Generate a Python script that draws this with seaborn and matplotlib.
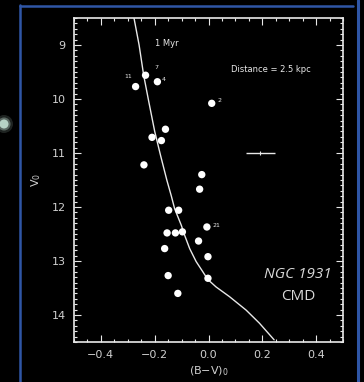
import numpy as np
import pandas as pd
import matplotlib
matplotlib.use("Agg")
import matplotlib.pyplot as plt
import seaborn as sns
from matplotlib.lines import Line2D
from matplotlib.patches import Ellipse
from matplotlib.ticker import MultipleLocator

# ---- data ----
star_bv = [-0.234, -0.271, -0.190, 0.012, -0.160, -0.210, -0.175, -0.240, -0.025, -0.033,
           -0.148, -0.111, -0.006, -0.154, -0.123, -0.097, -0.037, -0.163, -0.002, -0.150,
           -0.002, -0.114]
star_v = [9.56, 9.77, 9.68, 10.08, 10.56, 10.71, 10.77, 11.22, 11.40, 11.67,
          12.06, 12.06, 12.37, 12.48, 12.48, 12.46, 12.63, 12.77, 12.92, 13.27,
          13.32, 13.60]

iso_bv = [-0.277, -0.258, -0.241, -0.222, -0.200, -0.178, -0.155, -0.138, -0.126, -0.101,
          -0.089, -0.070, -0.046, -0.021, -0.003, 0.028, 0.078, 0.140, 0.189, 0.244]
iso_v = [8.50, 9.00, 9.56, 10.05, 10.60, 11.05, 11.50, 11.80, 12.03, 12.34,
         12.52, 12.77, 13.01, 13.20, 13.34, 13.48, 13.66, 13.91, 14.15, 14.46]

label_text = ["7", "11", "4", "2", "21"]
label_bv = [-0.194, -0.300, -0.168, 0.040, 0.030]
label_v = [9.42, 9.58, 9.63, 10.03, 12.34]

err_bv = [0.193]
err_v = [11.0]
err_xerr = [0.053]

xticks = [-0.4, -0.2, 0.0, 0.2, 0.4]
xticklabels = ["\u22120.4", "\u22120.2", "0.0", "0.2", "0.4"]
yticks = [9, 10, 11, 12, 13, 14]

stars = pd.DataFrame({"bv": star_bv, "v": star_v})
iso = pd.DataFrame({"bv": iso_bv, "v": iso_v})

sns.set_style("dark", {"axes.facecolor": "black", "figure.facecolor": "black"})
plt.rcParams["font.family"] = ["DejaVu Sans"]

fig = plt.figure(figsize=(3.64, 3.82), dpi=100)
fig.patch.set_facecolor("black")
ax = fig.add_axes([74/364, 1-342/382, 269/364, 324/382])
ax.set_facecolor("black")

fg = "#e8e8e8"
sns.lineplot(data=iso, x="bv", y="v", sort=False, color=fg, lw=1.0, ax=ax)
sns.scatterplot(data=stars, x="bv", y="v", color="white", s=28, edgecolor="none", ax=ax, zorder=3)
ax.errorbar(err_bv, err_v, xerr=err_xerr, fmt="none", ecolor=fg, elinewidth=1.0, capsize=0)
ax.plot(err_bv, err_v, marker="|", color=fg, ms=3, mew=0.8)

for t, x, y in zip(label_text, label_bv, label_v):
    ax.text(x, y, t, color=fg, fontsize=4.5, ha="center", va="center")

ax.text(-0.156, 8.97, "1 Myr", color=fg, fontsize=6, ha="center", va="center")
ax.text(0.232, 9.45, "Distance = 2.5 kpc", color=fg, fontsize=6, ha="center", va="center")

ax.set_xlim(-0.5, 0.5)
ax.set_ylim(14.5, 8.5)
ax.set_xticks(xticks)
ax.set_xticklabels(xticklabels)
ax.set_yticks(yticks)
ax.xaxis.set_minor_locator(MultipleLocator(0.05))
ax.yaxis.set_minor_locator(MultipleLocator(0.1))
ax.tick_params(which="both", direction="in", top=True, right=True, bottom=True, left=True,
               colors=fg, labelcolor="#d0d0d0", width=0.8)
ax.tick_params(which="major", length=5, labelsize=8, pad=6)
ax.tick_params(which="minor", length=2.5)
for s in ax.spines.values():
    s.set_color(fg)
    s.set_linewidth(1.2)
    s.set_visible(True)
ax.grid(False)
ax.set_xlabel("(B\u2212V)$_0$", color="#d0d0d0", fontsize=8, labelpad=3)
ax.set_ylabel("V$_0$", color="#d0d0d0", fontsize=8, labelpad=6)

# caption inside the plot
fig.text(298/364, 1-274/382, "NGC 1931", color="#d9d9d9", fontsize=11, style="italic",
         ha="center", va="center", family=["Open Sans", "DejaVu Sans"])
fig.text(298/364, 1-297/382, "CMD", color="#d9d9d9", fontsize=11,
         ha="center", va="center", family=["Open Sans", "DejaVu Sans"])

# slide frame lines
blue = "#2f56a6"
fig.add_artist(Line2D([19.5/364, 19.5/364], [0, 1-5/382], color=blue, lw=1.8, transform=fig.transFigure))
fig.add_artist(Line2D([19.5/364, 353/364], [1-5.5/382, 1-5.5/382], color=blue, lw=1.8, transform=fig.transFigure))
fig.add_artist(Line2D([357.5/364, 357.5/364], [0, 1], color=blue, lw=2.2, transform=fig.transFigure))

# glowing star at left edge
for r, a in [(9, 0.15), (6.5, 0.35), (4.5, 0.8)]:
    fig.add_artist(Ellipse((4/364, 1-124/382), 2*r/364, 2*r/382, transform=fig.transFigure,
                           color="#cfeee0", alpha=a, lw=0))

fig.savefig("out.png", dpi=100, facecolor="black")
